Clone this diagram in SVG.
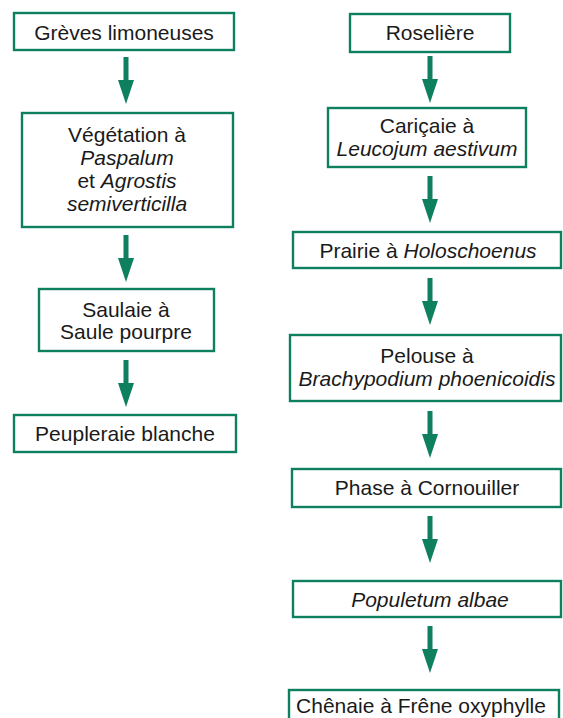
<svg xmlns="http://www.w3.org/2000/svg" width="563" height="718" viewBox="0 0 563 718">
<style>
.box{fill:#ffffff;stroke:#0e8060;stroke-width:2.4}
.t{font-family:"Liberation Sans",Arial,Helvetica,sans-serif;font-size:21px;fill:#1a1a1a;text-anchor:middle}
.i{font-style:italic}
.arr{fill:#0e8060}
</style>
<defs>
<path id="arrow" d="M-2.5,0 L2.5,0 L2.5,23 L8,23 L0,47 L-8,23 L-2.5,23 Z"/>
</defs>
<rect width="563" height="718" fill="#ffffff"/>
<g id="connectors" class="arr">
<use href="#arrow" x="126" y="57"/>
<use href="#arrow" x="126" y="235"/>
<use href="#arrow" x="126" y="360"/>
<use href="#arrow" x="430" y="56"/>
<use href="#arrow" x="430" y="176"/>
<use href="#arrow" x="430" y="278"/>
<use href="#arrow" x="430" y="411"/>
<use href="#arrow" x="430" y="516"/>
<use href="#arrow" x="430" y="626"/>
</g>
<g id="n-greves">
<rect class="box" x="14" y="13" width="220" height="37"/>
<text class="t" x="124" y="40">Grèves limoneuses</text>
</g>
<g id="n-vegetation">
<rect class="box" x="22" y="113" width="211" height="114"/>
<text class="t" x="127" y="142">Végétation à</text>
<text class="t i" x="127" y="165">Paspalum</text>
<text class="t" x="127" y="188">et <tspan class="i">Agrostis</tspan></text>
<text class="t i" x="127" y="211">semiverticilla</text>
</g>
<g id="n-saulaie">
<rect class="box" x="39" y="289" width="175" height="62"/>
<text class="t" x="126" y="317">Saulaie à</text>
<text class="t" x="126" y="339">Saule pourpre</text>
</g>
<g id="n-peupleraie">
<rect class="box" x="14" y="415" width="222" height="37"/>
<text class="t" x="125" y="441">Peupleraie blanche</text>
</g>
<g id="n-roseliere">
<rect class="box" x="350" y="14" width="160" height="38"/>
<text class="t" x="430" y="40">Roselière</text>
</g>
<g id="n-caricaie">
<rect class="box" x="328" y="108" width="198" height="59"/>
<text class="t" x="427" y="133">Cariçaie à</text>
<text class="t i" x="427" y="156">Leucojum aestivum</text>
</g>
<g id="n-prairie">
<rect class="box" x="293" y="232" width="268" height="36"/>
<text class="t" x="428" y="258">Prairie à <tspan class="i">Holoschoenus</tspan></text>
</g>
<g id="n-pelouse">
<rect class="box" x="290" y="335" width="271" height="66"/>
<text class="t" x="427" y="363">Pelouse à</text>
<text class="t i" x="427" y="386">Brachypodium phoenicoidis</text>
</g>
<g id="n-phase">
<rect class="box" x="292" y="469" width="269" height="38"/>
<text class="t" x="427" y="495">Phase à Cornouiller</text>
</g>
<g id="n-populetum">
<rect class="box" x="293" y="581" width="268" height="36"/>
<text class="t i" x="430" y="607">Populetum albae</text>
</g>
<g id="n-chenaie">
<rect class="box" x="289" y="690" width="270" height="40"/>
<text class="t" x="421" y="713">Chênaie à Frêne oxyphylle</text>
</g>
</svg>
